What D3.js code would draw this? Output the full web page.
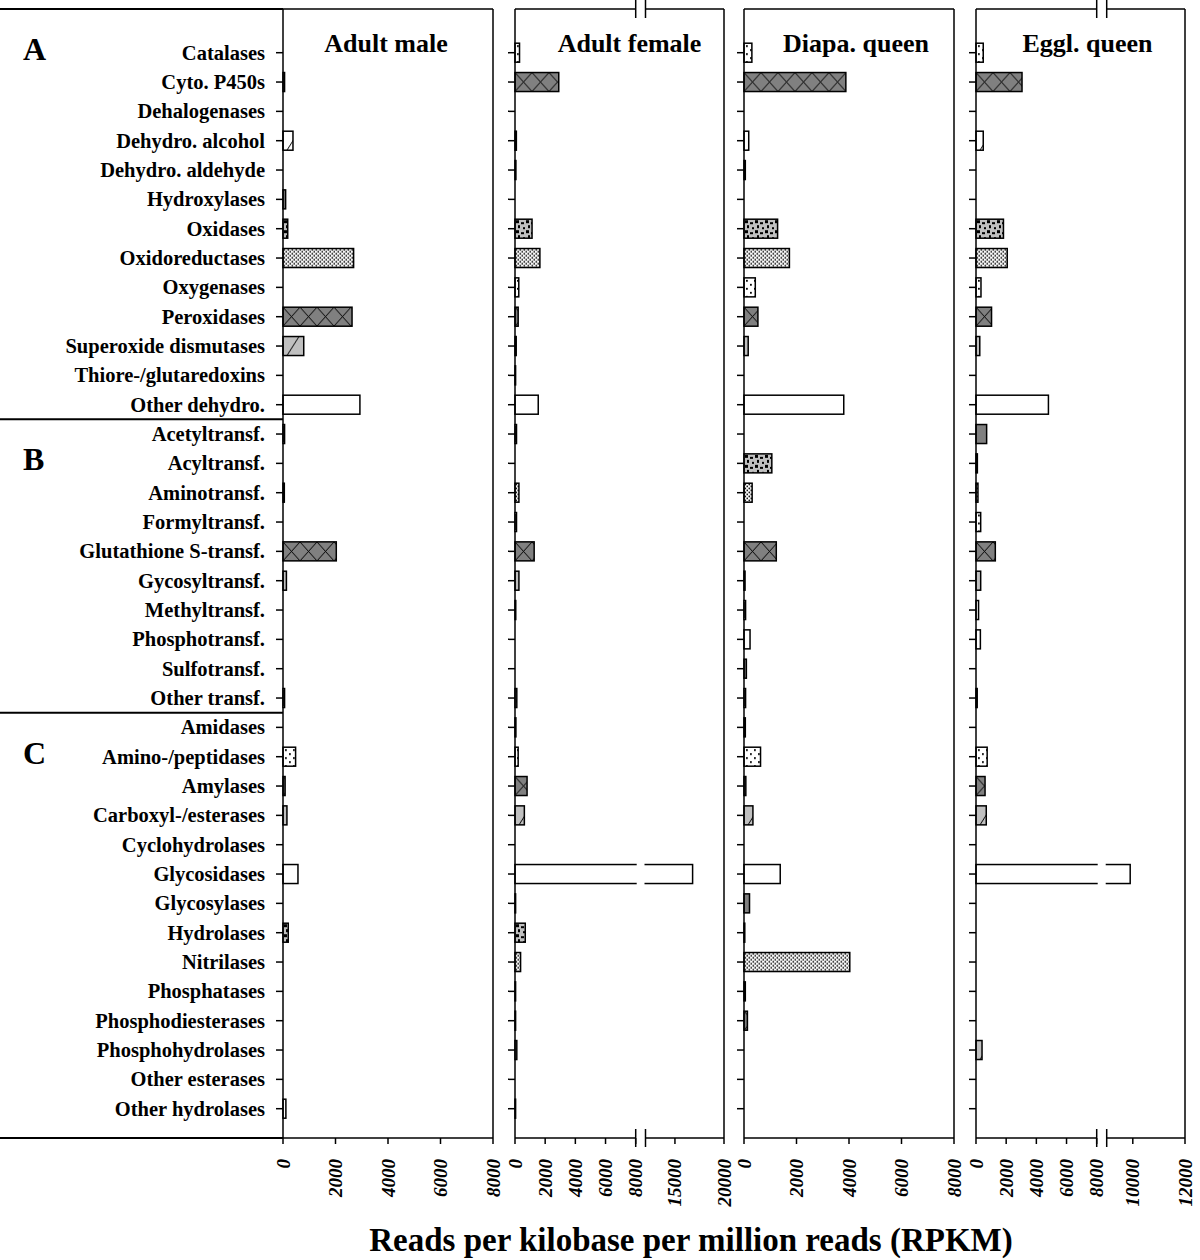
<!DOCTYPE html>
<html><head><meta charset="utf-8">
<script src="https://cdn.jsdelivr.net/npm/d3@7"></script>
<style>body{margin:0;background:#fff}</style>
</head><body><svg id="c" width="1200" height="1260"></svg>
<script>
// ---------------- DATA ----------------
const categories = [
  "Catalases","Cyto. P450s","Dehalogenases","Dehydro. alcohol","Dehydro. aldehyde","Hydroxylases",
  "Oxidases","Oxidoreductases","Oxygenases","Peroxidases","Superoxide dismutases","Thiore-/glutaredoxins",
  "Other dehydro.",
  "Acetyltransf.","Acyltransf.","Aminotransf.","Formyltransf.","Glutathione S-transf.","Gycosyltransf.",
  "Methyltransf.","Phosphotransf.","Sulfotransf.","Other transf.",
  "Amidases","Amino-/peptidases","Amylases","Carboxyl-/esterases","Cyclohydrolases","Glycosidases",
  "Glycosylases","Hydrolases","Nitrilases","Phosphatases","Phosphodiesterases","Phosphohydrolases",
  "Other esterases","Other hydrolases"
];
const groupLetters = ["A","B","C"];
const groupSizes = [13,10,14];
const panelTitles = ["Adult male","Adult female","Diapa. queen","Eggl. queen"];

const adultMale = [
  0,60,0,380,0,100, 180,2690,0,2630,790,0, 2930,
  60,0,50,0,2030,130, 0,0,0,60,
  0,480,80,150,0,570, 0,200,0,0,0,0, 0,110
];
const adultFemale = [
  300,2900,0,90,60,0, 1130,1650,250,210,80,40, 1540,
  100,0,260,100,1270,260, 50,0,0,120,
  60,210,800,620,0,16800, 40,680,370,40,40,120, 0,40
];
const diapaQueen = [
  300,3880,0,180,50,0, 1280,1730,430,530,160,0, 3800,
  0,1060,310,0,1230,40, 60,230,90,60,
  50,630,70,340,0,1380, 210,30,4030,50,130,0, 0,0
];
const egglQueen = [
  480,3050,0,480,0,0, 1820,2070,330,1030,250,0, 4800,
  705,90,130,310,1280,310, 170,290,0,80,
  0,740,600,680,0,9900, 0,0,0,0,0,400, 0,0
];

const ticksMale   = [0,2000,4000,6000,8000];
const ticksFemale = [0,2000,4000,6000,8000,15000,20000];
const ticksDiapa  = [0,2000,4000,6000,8000];
const ticksEggl   = [0,2000,4000,6000,8000,10000,12000];
const domainMale   = [0,8000];
const domainFemale = [0,8000,12000,20000];
const domainDiapa  = [0,8000];
const domainEggl   = [0,8000,9000,12000];
const axisTitle = "Reads per kilobase per million reads (RPKM)";

// ---------------- LAYOUT ----------------
const FONT = "'Liberation Serif','Times New Roman',serif";
const TOP = 9, BOTTOM = 1138, BAR_H = 19;
const panels = [
  {title: panelTitles[0], values: adultMale,   ticks: ticksMale,   domain: domainMale,   x0: 283, x1: 493, brk: null, dx: -2},
  {title: panelTitles[1], values: adultFemale, ticks: ticksFemale, domain: domainFemale, x0: 515, x1: 724, brk: [635.7, 645.5], dx: 10},
  {title: panelTitles[2], values: diapaQueen,  ticks: ticksDiapa,  domain: domainDiapa,  x0: 744, x1: 954, brk: null, dx: 7},
  {title: panelTitles[3], values: egglQueen,   ticks: ticksEggl,   domain: domainEggl,   x0: 976, x1: 1185, brk: [1096.7, 1106.7], dx: 7}
];

const svg = d3.select("#c");
const y = d3.scalePoint().domain(categories).range([52.7, 1108.7]);

// ---------------- PATTERNS ----------------
const defs = svg.append("defs");
const LIGHT = "#c0c0c0", DARK = "#808080";
function pat(id, w, h) {
  return defs.append("pattern").attr("id", id).attr("patternUnits", "userSpaceOnUse")
    .attr("width", w).attr("height", h);
}
// 0 light confetti
{
  const p = pat("p0", 10, 10);
  p.append("rect").attr("width", 10).attr("height", 10).attr("fill", LIGHT);
  [[1,1,3,3],[6,3,3,2],[3,6,2,3],[8,8,2,2]].forEach(r =>
    p.append("rect").attr("x", r[0]).attr("y", r[1]).attr("width", r[2]).attr("height", r[3]).attr("fill", "#000"));
}
// 1 dense dots
{
  const p = pat("p1", 4, 4);
  p.append("rect").attr("width", 4).attr("height", 4).attr("fill", "#fff");
  p.append("rect").attr("x", 0.5).attr("y", 0.5).attr("width", 1.6).attr("height", 1.6).attr("fill", "#000");
  p.append("rect").attr("x", 2.5).attr("y", 2.5).attr("width", 1.6).attr("height", 1.6).attr("fill", "#000");
}
// 2 sparse dots
{
  const p = pat("p2", 8, 8);
  p.append("rect").attr("width", 8).attr("height", 8).attr("fill", "#fff");
  p.append("rect").attr("x", 2).attr("y", 2).attr("width", 1.8).attr("height", 1.8).attr("fill", "#000");
  p.append("rect").attr("x", 6).attr("y", 6).attr("width", 1.8).attr("height", 1.8).attr("fill", "#000");
}
// 3 dark cross-hatch
{
  const p = pat("p3", 17, BAR_H);
  p.append("rect").attr("width", 17).attr("height", BAR_H).attr("fill", DARK);
  p.append("path").attr("d", `M0,0L17,${BAR_H}M17,0L0,${BAR_H}`).attr("stroke", "#000").attr("stroke-width", 1).attr("fill", "none");
}
// 4 light diagonal, 5 white diagonal
[["p4", LIGHT], ["p5", "#fff"]].forEach(([id, bg]) => {
  const p = pat(id, 22, BAR_H);
  p.append("rect").attr("width", 22).attr("height", BAR_H).attr("fill", bg);
  p.append("path").attr("d", `M4,${BAR_H}L16,0`).attr("stroke", "#000").attr("stroke-width", 1).attr("fill", "none");
});
const fills = ["url(#p0)", "url(#p1)", "url(#p2)", "url(#p3)", "url(#p4)", "url(#p5)", "#fff", DARK];
const fillFor = i => fills[(i + 2) % 8];

// ---------------- LEFT SIDE ----------------
const left = svg.append("g");
let start = 0;
const bounds = [TOP];
groupSizes.forEach((n, g) => {
  const letterRow = categories[start + (g === 0 ? 0 : 1)];
  left.append("text").attr("x", 23).attr("y", y(letterRow) + (g === 0 ? 7 : 7))
    .attr("font-family", FONT).attr("font-weight", "bold").attr("font-size", 32)
    .text(groupLetters[g]);
  start += n;
  if (start < categories.length) bounds.push((y(categories[start - 1]) + y(categories[start])) / 2);
});
bounds.push(BOTTOM);
bounds.forEach(b => left.append("line").attr("x1", 0).attr("x2", panels[0].x0).attr("y1", b).attr("y2", b)
  .attr("stroke", "#000").attr("stroke-width", 2));

left.selectAll("text.cat").data(categories).join("text").attr("class", "cat")
  .attr("x", 265).attr("y", d => y(d) + 7).attr("text-anchor", "end")
  .attr("font-family", FONT).attr("font-weight", "bold").attr("font-size", 20.5)
  .text(d => d);

// ---------------- PANELS ----------------
panels.forEach(P => {
  const range = P.brk ? [P.x0, P.brk[0], P.brk[1], P.x1] : [P.x0, P.x1];
  const x = d3.scaleLinear().domain(P.domain).range(range);
  const g = svg.append("g");

  P.values.forEach((v, i) => {
    if (!(v > 0)) return;
    const bg = g.append("g").attr("transform", `translate(${x(0)},${y(categories[i]) - BAR_H / 2})`);
    bg.append("rect").attr("x", 0).attr("y", 0).attr("width", x(v) - x(0)).attr("height", BAR_H)
      .attr("fill", fillFor(i)).attr("stroke", "#000").attr("stroke-width", 1.5);
    if (P.brk && v > P.domain[1]) {
      bg.append("rect").attr("x", P.brk[0] - x(0) + 1).attr("y", -2)
        .attr("width", P.brk[1] - P.brk[0] - 2).attr("height", BAR_H + 4).attr("fill", "#fff");
    }
  });

  const ln = (x1, y1, x2, y2, w) => g.append("line").attr("x1", x1).attr("y1", y1).attr("x2", x2).attr("y2", y2)
    .attr("stroke", "#000").attr("stroke-width", w || 1.5);
  ln(P.x0, TOP, P.x0, BOTTOM);
  ln(P.x1, TOP, P.x1, BOTTOM);
  if (P.brk) {
    [TOP, BOTTOM].forEach(yy => {
      ln(P.x0, yy, P.brk[0], yy);
      ln(P.brk[1], yy, P.x1, yy);
      ln(P.brk[0], yy - 9, P.brk[0], yy + 9);
      ln(P.brk[1], yy - 9, P.brk[1], yy + 9);
    });
  } else {
    ln(P.x0, TOP, P.x1, TOP);
    ln(P.x0, BOTTOM, P.x1, BOTTOM);
  }

  categories.forEach(c => ln(P.x0 - 7, y(c), P.x0, y(c)));

  P.ticks.forEach(t => {
    ln(x(t), BOTTOM, x(t), BOTTOM + 6);
    g.append("text").attr("transform", `translate(${x(t) + 6.5},1159) rotate(-90)`)
      .attr("text-anchor", "end").attr("font-family", FONT).attr("font-weight", "bold")
      .attr("font-style", "italic").attr("font-size", 19).text(t);
  });

  g.append("text").attr("x", (P.x0 + P.x1) / 2 + P.dx).attr("y", 52).attr("text-anchor", "middle")
    .attr("font-family", FONT).attr("font-weight", "bold").attr("font-size", 26).text(P.title);
});

svg.append("text").attr("x", 691).attr("y", 1251).attr("text-anchor", "middle")
  .attr("font-family", FONT).attr("font-weight", "bold").attr("font-size", 33).text(axisTitle);
</script>
</body></html>
